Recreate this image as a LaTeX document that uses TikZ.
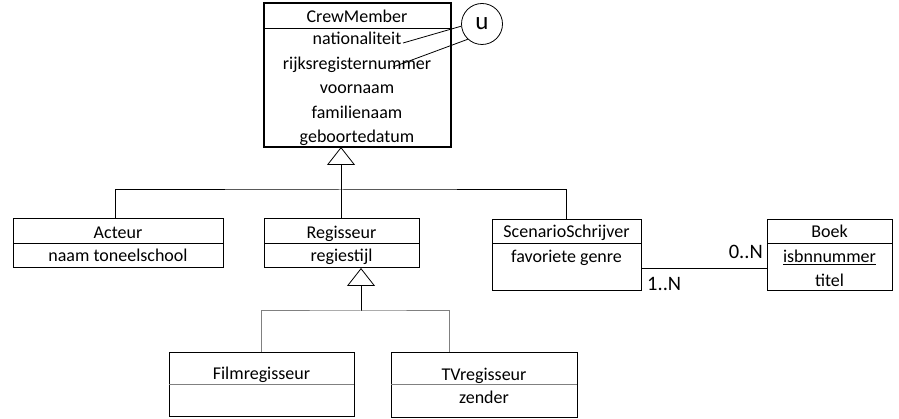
\documentclass[tikz,border=0pt]{standalone}
\usepackage{fontspec}
\setmainfont{Carlito}
\usetikzlibrary{arrows.meta}
\begin{document}
\begin{tikzpicture}[x=1pt,y=-1pt,
  cls/.style={draw=black, line width=1pt, anchor=north west, inner sep=0pt, outer sep=0pt},
  txt/.style={anchor=base, inner sep=0pt, font=\fontsize{18}{20}\selectfont},
  mult/.style={inner sep=0pt, font=\fontsize{20.5}{22}\selectfont},
  sepline/.style={line width=0.8pt},
  genline/.style={line width=1pt},
  genarrow/.style={-{Triangle[open, width=28pt, length=18pt, line width=0.8pt]}, line width=1pt},
]
\useasboundingbox (0,0) rectangle (899,419);

% CrewMember
\node[cls, line width=1.6pt, minimum width=187pt, minimum height=144pt] (crew) at (264,3) {};
\draw[sepline] (crew.west |- 0,28) -- (crew.east |- 0,28);
\node[txt] (crewT) at (357,23) {CrewMember};
\node[txt] (crewA1) at (357,45) {nationaliteit};
\node[txt] (crewA2) at (357,69.5) {rijksregisternummer};
\node[txt] (crewA3) at (357,94) {voornaam};
\node[txt] (crewA4) at (357,118.5) {familienaam};
\node[txt] (crewA5) at (357,143) {geboortedatum};

% unique constraint
\node[draw, circle, line width=0.8pt, minimum size=41pt, inner sep=0pt, font=\fontsize{25}{27}\selectfont] (u) at (482,24) {u};
\coordinate (k1) at (403,43);
\coordinate (k2) at (393,67);
\draw[line width=0.8pt] (u.186) -- (k1);
\draw[line width=0.8pt] (u.227) -- (k2);

% Acteur
\node[cls, minimum width=210pt, minimum height=49pt] (acteur) at (13,219) {};
\draw[sepline] (acteur.west |- 0,243) -- (acteur.east |- 0,243);
\node[txt] (acteurT) at (118,239) {Acteur};
\node[txt] (acteurA1) at (118,262) {naam toneelschool};

% Regisseur
\node[cls, minimum width=155pt, minimum height=49pt] (reg) at (264,219) {};
\draw[sepline] (reg.west |- 0,243) -- (reg.east |- 0,243);
\node[txt] (regT) at (341.5,239) {Regisseur};
\node[txt] (regA1) at (341.5,262) {regiestijl};

% ScenarioSchrijver
\node[cls, minimum width=149pt, minimum height=71pt] (scen) at (492,220) {};
\draw[sepline] (scen.west |- 0,243) -- (scen.east |- 0,243);
\node[txt] (scenT) at (566.5,238) {ScenarioSchrijver};
\node[txt] (scenA1) at (566.5,263) {favoriete genre};

% Boek
\node[cls, minimum width=125pt, minimum height=71pt] (boek) at (767,220) {};
\draw[sepline] (boek.west |- 0,243) -- (boek.east |- 0,243);
\node[txt] (boekT) at (829.5,238) {Boek};
\node[txt] (boekA1) at (829.5,263) {\underline{isbnnummer}};
\node[txt] (boekA2) at (829.5,287) {titel};

% Filmregisseur
\node[cls, minimum width=185pt, minimum height=64pt] (film) at (169,352) {};
\draw[sepline, gray] (film.west |- 0,384) -- (film.east |- 0,384);
\node[txt] (filmT) at (261.5,379) {Filmregisseur};

% TVregisseur
\node[cls, minimum width=186pt, minimum height=65pt] (tv) at (391,352) {};
\draw[sepline, gray] (tv.west |- 0,384) -- (tv.east |- 0,384);
\node[txt] (tvT) at (484,380) {TVregisseur};
\node[txt] (tvA1) at (484,403) {zender};

% generalisation CrewMember
\coordinate (j1) at (341,190);
\coordinate (acteurTop) at (115,219);
\draw[genarrow] (j1) -- (crew.south -| j1);
\draw[genline] (acteurTop) |- (j1) -| (scen.north);
\draw[genline] (reg.north) -- (reg.north |- j1);

% generalisation Regisseur
\coordinate (j2) at (361,311);
\coordinate (tvTop) at (449,352);
\draw[genarrow] (j2) -- (reg.south -| j2);
\draw[genline, gray] (film.north) |- (j2) -| (tvTop);

% association
\coordinate (a1) at (641,268);
\coordinate (a2) at (767,268);
\draw[line width=0.8pt] (a1) -- (a2);
\node[mult, anchor=base east] (m1) at (763,258.5) {0..N};
\node[mult, anchor=base west] (m2) at (647,290.5) {1..N};
\end{tikzpicture}
\end{document}
